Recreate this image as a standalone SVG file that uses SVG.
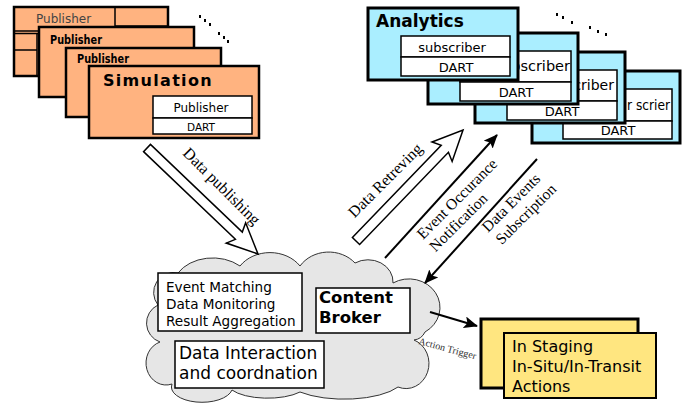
<svg xmlns="http://www.w3.org/2000/svg" width="689" height="403" viewBox="0 0 689 403">
<defs>
<style>
.sans{font-family:"DejaVu Sans","Liberation Sans",sans-serif}
.serif{font-family:"Liberation Serif","Times New Roman",serif}
.org{fill:#FFB380;stroke:#000;stroke-width:2.5}
.cy{fill:#AAEEFF;stroke:#000;stroke-width:3}
.wb{fill:#fff;stroke:#000;stroke-width:1.5}
.yl{fill:#FFE680;stroke:#000}
.blk{fill:none;stroke:#000;stroke-width:1.5}
.ln{fill:none;stroke:#000;stroke-width:2}
.dot{stroke:#000;stroke-width:2}
</style>
<marker id="ah" markerUnits="userSpaceOnUse" markerWidth="14" markerHeight="12" refX="13" refY="6" orient="auto">
<path d="M0,0 L14,6 L0,12 L3,6 Z" fill="#000"/>
</marker>
</defs>
<rect width="689" height="403" fill="#fff"/>

<g id="sim-stack">
<g id="pub1">
<rect class="org" x="14" y="7" width="154" height="69"/>
<path d="M115,7 V26 H168 M14,31 H40 M14,33.5 H40 M14,50 H37 M37,33 V76" fill="none" stroke="#000" stroke-width="1.5"/>
<text class="sans" x="36" y="23" font-size="12" fill="#444">Publisher</text>
</g>
<g id="pub2">
<rect class="org" x="39" y="27" width="155" height="70"/>
<text class="sans" x="50" y="44" font-size="12" font-weight="bold" textLength="52" lengthAdjust="spacingAndGlyphs">Publisher</text>
</g>
<g id="pub3">
<rect class="org" x="66" y="48" width="155" height="69"/>
<text class="sans" x="77" y="63" font-size="12" font-weight="bold" textLength="52" lengthAdjust="spacingAndGlyphs">Publisher</text>
</g>
<g id="simulation">
<rect class="org" x="89" y="66" width="170" height="72"/>
<text class="sans" x="103" y="86" font-size="16" font-weight="bold" letter-spacing="1.3">Simulation</text>
<rect class="wb" x="153" y="96" width="99" height="22"/>
<text class="sans" x="201" y="112" font-size="12" text-anchor="middle">Publisher</text>
<rect class="wb" x="153" y="118" width="99" height="16"/>
<text class="sans" x="201" y="131" font-size="10.5" text-anchor="middle">DART</text>
</g>
<g id="sim-dots">
<path class="dot" d="M200,15 v3 M205,19 v3 M210,23 v3 M219,32 v3 M224,36 v3 M228,40 v3"/>
</g>
</g>

<g id="ana-stack">
<g id="ana4">
<rect class="cy" x="532" y="71" width="148" height="72"/>
<rect class="wb" x="563" y="89" width="109" height="32"/>
<text class="sans" x="627" y="110" font-size="13.5" textLength="43" lengthAdjust="spacingAndGlyphs">r scrier</text>
<rect class="wb" x="563" y="121" width="109" height="18"/>
<text class="sans" x="618" y="135" font-size="13" text-anchor="middle">DART</text>
</g>
<g id="ana3">
<rect class="cy" x="475" y="52" width="150" height="71"/>
<rect class="wb" x="507" y="70" width="110" height="31"/>
<text class="sans" x="614" y="90" font-size="14" text-anchor="end">subscriber</text>
<rect class="wb" x="507" y="101" width="110" height="19"/>
<text class="sans" x="562" y="116" font-size="13" text-anchor="middle">DART</text>
</g>
<g id="ana2">
<rect class="cy" x="428" y="33" width="150" height="71"/>
<rect class="wb" x="460" y="51" width="111" height="31"/>
<text class="sans" x="570" y="71" font-size="14.5" text-anchor="end">subscriber</text>
<rect class="wb" x="460" y="82" width="111" height="19"/>
<text class="sans" x="516" y="97" font-size="13" text-anchor="middle">DART</text>
</g>
<g id="analytics">
<rect class="cy" x="368" y="8" width="150" height="72" stroke-width="2"/>
<text class="sans" x="376" y="27" font-size="17" font-weight="bold">Analytics</text>
<rect class="wb" x="401" y="36" width="109" height="21"/>
<text class="sans" x="452" y="52" font-size="13" text-anchor="middle">subscriber</text>
<rect class="wb" x="401" y="57" width="109" height="19"/>
<text class="sans" x="456" y="72" font-size="13" text-anchor="middle">DART</text>
</g>
<g id="ana-dots">
<path class="dot" d="M557,13 v3 M563,16 v3 M572,21 v3 M590,26 v3 M598,30 v3 M606,33 v3"/>
</g>
</g>

<g id="broker-cloud">
<path d="M158,305 A20,20 0 0 1 178,273 A40,30 0 0 1 240,266 A36,30 0 0 1 300,266 A34,30 0 0 1 355,263 A25,22 0 0 1 393,283 A26,24 0 0 1 425,332 A14,14 0 0 1 414,340 A22,24 0 0 1 398,387 A60,22 0 0 1 300,392 A40,15 0 0 1 232,390 A30,15 0 0 1 172,384 A20,22 0 0 1 160,342 A20,20 0 0 1 158,305 Z" fill="#E6E6E6" stroke="#333" stroke-width="1"/>
<g id="matching">
<rect class="wb" x="158" y="273" width="144" height="58"/>
<text class="sans" x="166" y="292" font-size="13.6">Event Matching</text>
<text class="sans" x="166" y="309" font-size="13.6">Data Monitoring</text>
<text class="sans" x="166" y="326" font-size="13.6">Result Aggregation</text>
</g>
<g id="content-broker">
<rect class="wb" x="316" y="288" width="94" height="45"/>
<text class="sans" x="319" y="303" font-size="16.5" font-weight="bold">Content</text>
<text class="sans" x="319" y="323" font-size="16.5" font-weight="bold">Broker</text>
</g>
<g id="interaction">
<rect class="wb" x="175" y="341" width="149" height="47"/>
<text class="sans" x="179" y="359" font-size="17">Data Interaction</text>
<text class="sans" x="179" y="379" font-size="17">and coordnation</text>
</g>
</g>

<g id="actions">
<rect class="yl" x="481" y="319" width="157" height="69" stroke-width="3"/>
<rect class="yl" x="504" y="333" width="152" height="65" stroke-width="2"/>
<text class="sans" x="512" y="352" font-size="16">In Staging</text>
<text class="sans" x="512" y="372" font-size="16">In-Situ/In-Transit</text>
<text class="sans" x="512" y="392" font-size="16">Actions</text>
</g>

<g id="connectors">
<path class="blk" fill="#fff" transform="translate(147,148) rotate(43.68)" d="M0,-5 H127 L123,-14 L153.5,0 L123,14 L127,5 H0 Z"/>
<path class="blk" fill="#fff" transform="translate(356,241) rotate(-46.05)" d="M0,-5 H128 L124,-14 L154.2,0 L124,14 L128,5 H0 Z"/>
<line class="ln" x1="385" y1="258" x2="497" y2="135" marker-end="url(#ah)"/>
<line class="ln" x1="537" y1="159" x2="425" y2="283" marker-end="url(#ah)"/>
<line class="ln" x1="430" y1="312" x2="477" y2="326" marker-end="url(#ah)"/>
<text class="serif" font-size="16" text-anchor="middle" transform="translate(218,190) rotate(45)">Data publishing</text>
<text class="serif" font-size="16" text-anchor="middle" transform="translate(389,184) rotate(-45)">Data Retreving</text>
<g transform="translate(423,240) rotate(-45)">
<text class="serif" font-size="15.5" x="0" y="0">Event Occurance</text>
<text class="serif" font-size="15.5" x="0" y="17.7">Notification</text>
</g>
<g transform="translate(488,233) rotate(-45)">
<text class="serif" font-size="15.5" x="0" y="0">Data Events</text>
<text class="serif" font-size="15.5" x="1" y="18.5">Subscription</text>
</g>
<text class="serif" font-size="10" fill="#333" transform="translate(418,344) rotate(15)">Action Trigger</text>
</g>
</svg>
